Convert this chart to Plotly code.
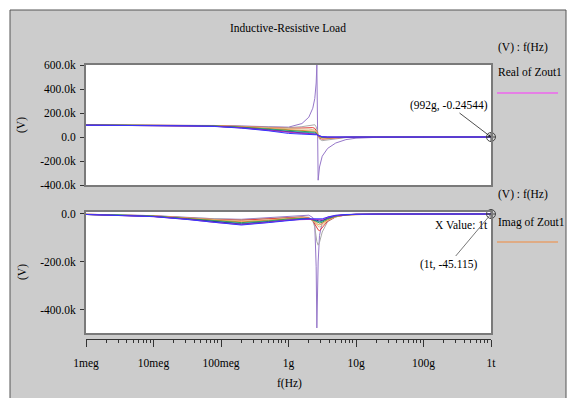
import plotly.graph_objects as go

W, H = 571, 398

# ---------------- data ----------------
freq_hz = [1e6, 3.16e6, 1e7, 3.16e7, 7.94e7, 2.0e8, 5.01e8, 1.0e9, 1.58e9, 2.0e9,
           2.29e9, 2.45e9, 2.57e9, 2.63e9, 2.75e9, 2.88e9, 3.16e9, 3.80e9, 5.01e9,
           7.08e9, 1.0e10, 2.0e10, 5.01e10, 1.0e11, 3.16e11, 1.0e12]

run_names = ["run 1", "run 2", "run 3", "run 4", "run 5",
             "run 6", "run 7", "run 8", "run 9", "run 10"]
run_colors = ["#9677c9", "#a9a9a9", "#e23c3c", "#dcc28a", "#f28a3c",
              "#3a9e3a", "#2aa5a5", "#2b2b8c", "#c02cc0", "#3535ff"]

# Real of Zout1 (kV)
real_k = [
    [102, 101, 100, 99, 97, 92, 86, 82, 112, 165, 240, 320, 450, 600, -360, -250, -160, -95, -50, -22, -10, -3, -1, -0.5, -0.3, -0.0002],
    [101, 100, 99, 98, 96, 90, 83, 78, 86, 95, 104, 102, 85, 60, 15, -18, -30, -25, -12, -5, -2, -1, -0.5, -0.3, -0.1, -0.0002],
    [101, 100, 99, 97, 95, 88, 80, 72, 75, 78, 78, 72, 58, 45, 12, -8, -18, -16, -8, -3, -1.5, -0.8, -0.4, -0.2, -0.1, -0.0002],
    [100, 100, 98, 97, 94, 86, 76, 66, 66, 66, 64, 58, 48, 38, 14, -2, -12, -12, -6, -2, -1, -0.5, -0.3, -0.2, -0.1, -0.0002],
    [100, 99, 98, 96, 93, 84, 72, 60, 58, 56, 53, 48, 40, 33, 14, 2, -6, -9, -5, -2, -1, -0.5, -0.3, -0.2, -0.1, -0.0002],
    [100, 99, 97, 96, 92, 82, 68, 54, 50, 47, 44, 40, 34, 29, 14, 4, -3, -6, -4, -2, -1, -0.5, -0.3, -0.2, -0.1, -0.0002],
    [99, 99, 97, 95, 91, 80, 64, 48, 43, 40, 37, 34, 30, 26, 14, 6, -1, -4, -3, -1.5, -0.8, -0.4, -0.2, -0.1, -0.1, -0.0002],
    [99, 98, 96, 94, 90, 78, 60, 42, 36, 33, 31, 29, 26, 23, 13, 7, 1, -2, -2, -1, -0.6, -0.3, -0.2, -0.1, -0.1, -0.0002],
    [99, 98, 96, 94, 89, 76, 56, 36, 30, 28, 26, 25, 23, 21, 12, 7, 2, -1, -1.5, -1, -0.5, -0.3, -0.2, -0.1, -0.05, -0.0002],
    [98, 98, 96, 93, 88, 74, 52, 30, 24, 22, 21, 20, 19, 18, 12, 8, 3, 0, -1, -0.5, -0.3, -0.2, -0.1, -0.05, -0.02, -0.0002],
]

# Imag of Zout1 (kV)
imag_k = [
    [-1, -3, -7, -14, -20, -22, -15, -8, -4, -5, -15, -45, -220, -475, -200, -90, -35, -12, -5, -2, -1, -0.3, -0.1, -0.05, -0.05, -0.045],
    [-1, -3, -7, -15, -21, -24, -19, -13, -11, -14, -28, -55, -95, -115, -130, -118, -75, -32, -12, -4, -2, -0.5, -0.2, -0.1, -0.05, -0.045],
    [-1, -3, -8, -16, -23, -26, -21, -15, -13, -16, -28, -42, -55, -60, -66, -70, -58, -30, -12, -4, -2, -0.5, -0.2, -0.1, -0.05, -0.045],
    [-1, -3, -8, -17, -25, -30, -24, -17, -15, -18, -27, -36, -44, -48, -52, -54, -47, -27, -11, -4, -2, -0.5, -0.2, -0.1, -0.05, -0.045],
    [-2, -4, -9, -18, -27, -33, -26, -19, -17, -19, -25, -31, -37, -40, -44, -45, -40, -24, -10, -4, -2, -0.5, -0.2, -0.1, -0.05, -0.045],
    [-2, -4, -9, -19, -29, -36, -29, -21, -19, -20, -24, -28, -32, -34, -37, -38, -34, -21, -9, -3, -1.5, -0.5, -0.2, -0.1, -0.05, -0.045],
    [-2, -4, -10, -20, -31, -39, -31, -23, -20, -21, -23, -26, -28, -30, -32, -33, -30, -19, -8, -3, -1.5, -0.5, -0.2, -0.1, -0.05, -0.045],
    [-2, -5, -10, -21, -33, -42, -33, -24, -21, -21, -22, -24, -25, -26, -28, -29, -27, -17, -7, -3, -1, -0.5, -0.2, -0.1, -0.05, -0.045],
    [-2, -5, -11, -22, -35, -44, -35, -25, -22, -21, -21, -22, -23, -23, -24, -25, -24, -15, -7, -3, -1, -0.4, -0.2, -0.1, -0.05, -0.045],
    [-2, -5, -11, -23, -36, -46, -36, -26, -22, -20, -20, -20, -20, -20, -21, -21, -20, -13, -6, -2, -1, -0.3, -0.1, -0.05, -0.05, -0.045],
]

x_tick_vals = [1e6, 1e7, 1e8, 1e9, 1e10, 1e11, 1e12]
x_tick_text = ["1meg", "10meg", "100meg", "1g", "10g", "100g", "1t"]
top_tick_vals = [600, 400, 200, 0, -200, -400]
top_tick_text = ["600.0k", "400.0k", "200.0k", "0.0", "-200.0k", "-400.0k"]
bot_tick_vals = [0, -200, -400]
bot_tick_text = ["0.0", "-200.0k", "-400.0k"]

cursor_real = (1e12, -0.00024544)
cursor_imag = (1e12, -0.045115)

# ---------------- helpers (pixel -> paper) ----------------
def px(x):
    return x / W

def py(y):
    return 1 - y / H

FONT = "Liberation Serif"
FS = 11.5
AX = "#7a7a7a"

fig = go.Figure()

for name, col, r in zip(run_names, run_colors, real_k):
    fig.add_trace(go.Scatter(x=freq_hz, y=r, mode="lines", name=name,
                             line=dict(color=col, width=1), xaxis="x", yaxis="y",
                             showlegend=False))
for name, col, im in zip(run_names, run_colors, imag_k):
    fig.add_trace(go.Scatter(x=freq_hz, y=im, mode="lines", name=name,
                             line=dict(color=col, width=1), xaxis="x2", yaxis="y2",
                             showlegend=False))

# cursors
fig.add_trace(go.Scatter(x=[cursor_real[0]], y=[cursor_real[1]], mode="markers",
                         marker=dict(symbol="circle-cross-open", size=9,
                                     color="#444444", line=dict(width=1)),
                         xaxis="x", yaxis="y", cliponaxis=False, showlegend=False))
fig.add_trace(go.Scatter(x=[cursor_imag[0]], y=[cursor_imag[1]], mode="markers",
                         marker=dict(symbol="circle-cross-open", size=9,
                                     color="#444444", line=dict(width=1)),
                         xaxis="x2", yaxis="y2", cliponaxis=False, showlegend=False))
# invisible trace for the tick strip axis
fig.add_trace(go.Scatter(x=[1e6, 1e12], y=[None, None], mode="lines",
                         xaxis="x3", yaxis="y2", showlegend=False, hoverinfo="skip"))

xdom = [px(86), px(491)]
box = dict(showline=True, linecolor=AX, linewidth=2, mirror=True, showgrid=False,
           zeroline=False, automargin=False)

fig.update_layout(
    width=W, height=H,
    margin=dict(l=0, r=0, t=0, b=0, pad=0, autoexpand=False),
    paper_bgcolor="#cccccc",
    plot_bgcolor="white",
    font=dict(family=FONT, size=FS, color="black"),
    showlegend=False,
    xaxis=dict(domain=xdom, type="log", range=[6, 12], anchor="y",
               showticklabels=False, ticks="", **box),
    yaxis=dict(domain=[py(185), py(65)], range=[-400, 600], anchor="x",
               tickvals=top_tick_vals, ticktext=top_tick_text, ticks="outside",
               ticklen=4, tickcolor="#333", ticklabelstandoff=2, **box),
    xaxis2=dict(domain=xdom, type="log", range=[6, 12], anchor="y2",
                showticklabels=False, ticks="", **box),
    yaxis2=dict(domain=[py(333), py(212)], range=[-496, 8.3], anchor="x2",
                tickvals=bot_tick_vals, ticktext=bot_tick_text, ticks="outside",
                ticklen=4, tickcolor="#333", ticklabelstandoff=2, **box),
    xaxis3=dict(domain=xdom, type="log", range=[6, 12], overlaying="x2",
                anchor="free", position=py(339), side="bottom", automargin=False,
                showline=True, linecolor="#333", linewidth=1, showgrid=False,
                zeroline=False, tickvals=x_tick_vals, ticktext=x_tick_text,
                ticks="outside", ticklen=7, tickcolor="#333", ticklabelstandoff=6,
                minor=dict(ticks="outside", ticklen=3, tickcolor="#333",
                           tickvals=[m * 10 ** e for e in range(6, 12) for m in range(2, 10)],
                           showgrid=False)),
)

shapes = [
    # white surroundings outside the gray panel
    dict(type="rect", xref="paper", yref="paper", x0=0, x1=px(10), y0=0, y1=1,
         fillcolor="white", line=dict(width=0), layer="below"),
    dict(type="rect", xref="paper", yref="paper", x0=0, x1=1, y0=py(10), y1=1,
         fillcolor="white", line=dict(width=0), layer="below"),
    dict(type="rect", xref="paper", yref="paper", x0=px(566), x1=1, y0=0, y1=1,
         fillcolor="white", line=dict(width=0), layer="below"),
    # panel border
    dict(type="line", xref="paper", yref="paper", x0=px(10), x1=px(10), y0=0, y1=py(10),
         line=dict(color="#555555", width=1)),
    dict(type="line", xref="paper", yref="paper", x0=px(10), x1=px(566), y0=py(10), y1=py(10),
         line=dict(color="#555555", width=1)),
    dict(type="line", xref="paper", yref="paper", x0=px(566), x1=px(566), y0=0, y1=py(10),
         line=dict(color="#555555", width=1)),
    # legend swatches
    dict(type="line", xref="paper", yref="paper", x0=px(497), x1=px(558), y0=py(93), y1=py(93),
         line=dict(color="#ff33ff", width=1)),
    dict(type="line", xref="paper", yref="paper", x0=px(497), x1=px(558), y0=py(242), y1=py(242),
         line=dict(color="#f28a3c", width=1)),
]
fig.update_layout(shapes=shapes)

def txt(x, y, s, **kw):
    d = dict(xref="paper", yref="paper", x=px(x), y=py(y), text=s, showarrow=False,
             xanchor="center", yanchor="middle", font=dict(family=FONT, size=FS, color="black"))
    d.update(kw)
    return d

annotations = [
    txt(288, 28, "Inductive-Resistive Load"),
    txt(496, 47, "(V) : f(Hz)", xanchor="left"),
    txt(496, 72, "Real of Zout1", xanchor="left"),
    txt(496, 195, "(V) : f(Hz)", xanchor="left"),
    txt(496, 222, "Imag of Zout1", xanchor="left"),
    txt(22, 125, "(V)", textangle=-90),
    txt(22, 272, "(V)", textangle=-90),
    txt(289, 383, "f(Hz)"),
    txt(461, 225, "X Value: 1t"),
    dict(xref="x", yref="y", x=12, y=cursor_real[1], text="(992g, -0.24544)",
         showarrow=True, arrowhead=2, arrowsize=0.7, arrowwidth=0.8, arrowcolor="#222",
         ax=-42, ay=-32, font=dict(family=FONT, size=FS, color="black")),
    dict(xref="x2", yref="y2", x=12, y=cursor_imag[1], text="(1t, -45.115)",
         showarrow=True, arrowhead=0, arrowwidth=0.8, arrowcolor="#555",
         ax=-42, ay=50, font=dict(family=FONT, size=FS, color="black")),
]
fig.update_layout(annotations=annotations)

fig.write_html("out.html", config={"displayModeBar": False},
               post_script="document.body.style.margin='0';document.body.style.overflow='hidden';")
